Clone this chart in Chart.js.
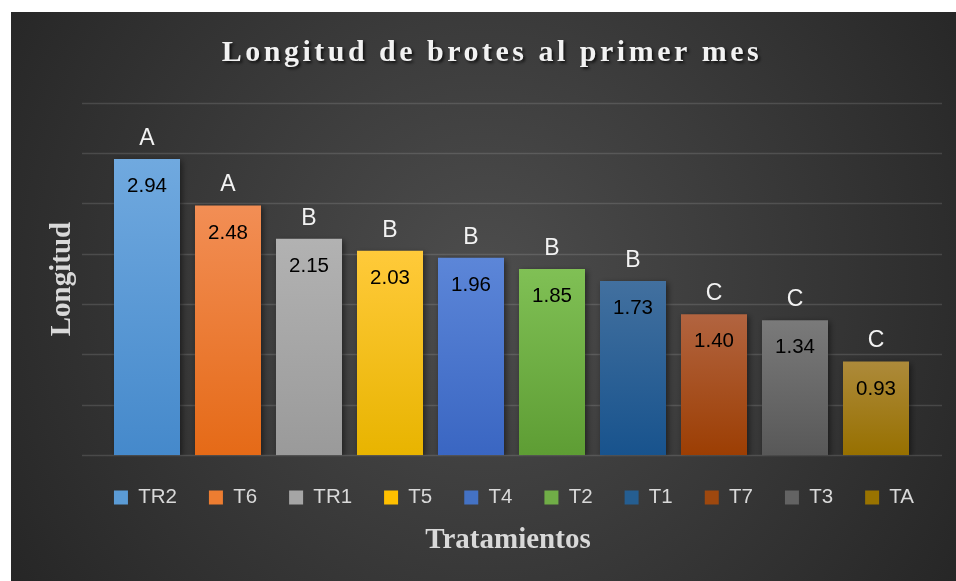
<!DOCTYPE html>
<html><head><meta charset="utf-8">
<script src="https://cdn.jsdelivr.net/npm/chart.js@4"></script>
<style>html,body{margin:0;padding:0;background:#fff;overflow:hidden}canvas{display:block}</style>
</head><body>
<canvas id="c" width="956" height="581"></canvas>
<script>
const categories = ['TR2','T6','TR1','T5','T4','T2','T1','T7','T3','TA'];
const values = [2.94, 2.48, 2.15, 2.03, 1.96, 1.85, 1.73, 1.40, 1.34, 0.93];
const letters = ['A','A','B','B','B','B','B','C','C','C'];
const yTicks = [0, 0.5, 1, 1.5, 2, 2.5, 3, 3.5];
const topColors = ['#70a9df','#f28e55','#b2b2b2','#ffca3a','#5c86d8','#80c055','#42709f','#b26440','#7a7a7a','#ad8a3a'];
const bottomColors = ['#4589cb','#e56a17','#9a9a9a','#e8b400','#3a66c2','#5e9d34','#18538d','#9c3e03','#585858','#977000'];
const legendColors = ['#5b9bd5','#ed7d31','#a5a5a5','#ffc000','#4472c4','#70ad47','#255e91','#9e480e','#636363','#997300'];
const chartTitle = 'Longitud de brotes al primer mes';
const yTitle = 'Longitud';
const xTitle = 'Tratamientos';

const decor = {
  id: 'decor',
  beforeDraw(chart) {
    const ctx = chart.ctx;
    ctx.save();
    ctx.fillStyle = '#ffffff';
    ctx.fillRect(0, 0, chart.width, chart.height);
    const g = ctx.createRadialGradient(485, 280, 0, 485, 280, 620);
    g.addColorStop(0, '#4d4d4d');
    g.addColorStop(1, '#222222');
    ctx.fillStyle = g;
    ctx.fillRect(11, 12, chart.width - 11, chart.height - 12);
    ctx.textAlign = 'center';
    ctx.textBaseline = 'middle';
    // main title
    ctx.font = 'bold 30px "Liberation Serif"';
    ctx.letterSpacing = '3.5px';
    ctx.shadowColor = 'rgba(0,0,0,0.7)';
    ctx.shadowBlur = 3;
    ctx.shadowOffsetX = 2;
    ctx.shadowOffsetY = 2;
    ctx.fillStyle = '#f2f2f2';
    ctx.fillText(chartTitle, 492, 53);
    ctx.letterSpacing = '0px';
    ctx.shadowColor = 'rgba(0,0,0,0)';
    // x title
    ctx.font = 'bold 29px "Liberation Serif"';
    ctx.fillStyle = '#d9d9d9';
    ctx.fillText(xTitle, 508, 541);
    // y title
    ctx.translate(63, 279);
    ctx.rotate(-Math.PI / 2);
    ctx.fillText(yTitle, 0, 0);
    ctx.restore();
  },
  beforeDatasetsDraw(chart) {
    const ctx = chart.ctx, y = chart.scales.y, a = chart.chartArea;
    ctx.save();
    ctx.strokeStyle = 'rgba(255,255,255,0.13)';
    ctx.lineWidth = 1.3;
    yTicks.forEach(v => {
      const py = Math.round(y.getPixelForValue(v)) + 0.5;
      ctx.beginPath();
      ctx.moveTo(a.left - 24.5, py);
      ctx.lineTo(a.right + 25.5, py);
      ctx.stroke();
    });
    ctx.restore();
    ctx.save();
    ctx.shadowColor = 'rgba(0,0,0,0.5)';
    ctx.shadowBlur = 6;
    ctx.shadowOffsetX = 2;
    ctx.shadowOffsetY = 2;
  },
  afterDatasetsDraw(chart) {
    const ctx = chart.ctx;
    ctx.restore();
    ctx.save();
    const meta = chart.getDatasetMeta(0);
    ctx.textAlign = 'center';
    ctx.textBaseline = 'middle';
    meta.data.forEach((el, i) => {
      ctx.font = '20.5px "Liberation Sans"';
      ctx.fillStyle = '#000000';
      ctx.fillText(values[i].toFixed(2), el.x, el.y + 27.5);
      ctx.font = '23px "Liberation Sans"';
      ctx.fillStyle = '#f2f2f2';
      ctx.fillText(letters[i], el.x, el.y - 20.5);
    });
    ctx.restore();
  }
};

new Chart(document.getElementById('c'), {
  type: 'bar',
  data: {
    labels: categories,
    datasets: [{
      data: values,
      backgroundColor(ctx) {
        const chart = ctx.chart, a = chart.chartArea, i = ctx.dataIndex;
        if (!a || i === undefined) return legendColors[i || 0];
        const top = chart.scales.y.getPixelForValue(values[i]);
        const g = chart.ctx.createLinearGradient(0, top, 0, a.bottom);
        g.addColorStop(0, topColors[i]);
        g.addColorStop(1, bottomColors[i]);
        return g;
      },
      borderWidth: 0,
      categoryPercentage: 1,
      barPercentage: 0.815
    }]
  },
  options: {
    responsive: false,
    animation: false,
    devicePixelRatio: 1,
    layout: { padding: { left: 72, right: 0, top: 102.7, bottom: 63.3 } },
    scales: {
      x: { display: false },
      y: {
        position: 'left', min: 0, max: 3.5,
        ticks: { display: false }, grid: { display: false }, border: { display: false },
        afterFit(s) { s.width = 34.5; }
      },
      y2: {
        position: 'right', min: 0, max: 3.5,
        ticks: { display: false }, grid: { display: false }, border: { display: false },
        afterFit(s) { s.width = 39.5; }
      }
    },
    plugins: {
      tooltip: { enabled: false },
      title: { display: false },
      legend: {
        position: 'bottom',
        labels: {
          boxWidth: 14, boxHeight: 14, padding: 32,
          color: '#d9d9d9',
          font: { family: 'Liberation Sans', size: 20.5 },
          generateLabels() {
            return categories.map((c, i) => ({
              text: c, fillStyle: legendColors[i], strokeStyle: legendColors[i],
              lineWidth: 0, hidden: false, index: i, datasetIndex: 0, fontColor: '#d9d9d9'
            }));
          }
        }
      }
    }
  },
  plugins: [decor]
});
</script>
</body></html>
